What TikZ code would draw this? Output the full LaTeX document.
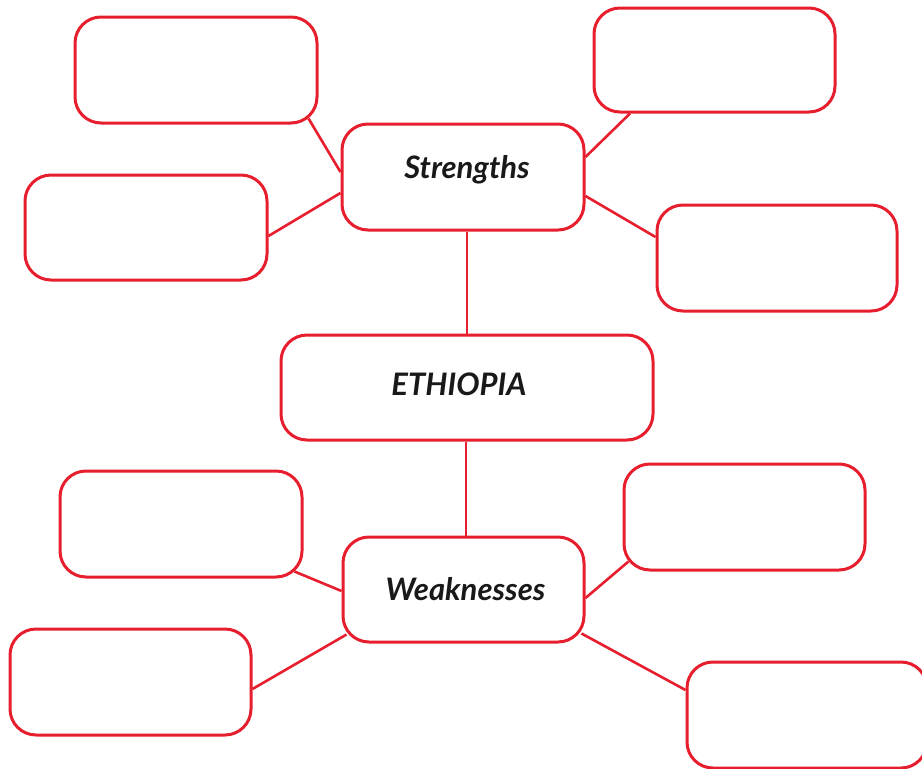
\documentclass[tikz,border=0pt]{standalone}
\usepackage{fontspec}
\setmainfont{Lato}
\definecolor{boxred}{RGB}{230,30,45}
\definecolor{txt}{RGB}{25,25,25}
\begin{document}
\begin{tikzpicture}[x=1pt,y=-1pt,
  box/.style={draw=boxred,line width=3pt,rounded corners=26pt,fill=white,
    minimum width=242pt,minimum height=106pt,inner sep=0pt,
    font=\fontsize{31}{34}\selectfont\bfseries\itshape,text=txt},
  link/.style={draw=boxred,line width=2.6pt}]
\useasboundingbox (0,0) rectangle (922,769);
\clip (0,0) rectangle (922,769);
% boxes
\node[box] (TL1) at (196,70) {};
\node[box,minimum width=241pt,minimum height=104pt] (TR1) at (714.5,60) {};
\node[box] (S) at (463,177) {\hspace*{8pt}\raisebox{20pt}{Strengths}};
\node[box,minimum height=105pt] (L2) at (146,227.5) {};
\node[box,minimum width=240pt] (R2) at (777,258) {};
\node[box,minimum width=372pt,minimum height=105pt] (E) at (467,387.5) {\raisebox{7pt}{ETHIOPIA}\hspace*{16pt}};
\node[box] (WL1) at (181,524) {};
\node[box,minimum width=241pt] (WR1) at (744.5,517) {};
\node[box,minimum width=241pt,minimum height=105pt] (W) at (463.5,589.5) {\hspace*{4pt}Weaknesses};
\node[box,minimum width=241pt] (WL2) at (130.5,682) {};
\node[box,minimum width=240pt] (WR2) at (807,715) {};
% connectors
\draw[link] ([shift={(-10,-6)}]TL1.south east) -- ([shift={(0,-5)}]S.west);
\draw[link] ([shift={(0,8.5)}]L2.east) -- ([shift={(0,16)}]S.west);
\draw[link] ([shift={(-84.5,0)}]TR1.south) -- ([shift={(0,-20)}]S.east);
\draw[link] ([shift={(0,-21)}]R2.west) -- ([shift={(0,19)}]S.east);
\draw[link] (E.north) -- (E.north |- S.south);
\draw[link] ([xshift=-1pt]E.south) -- ([xshift=-1pt]E.south |- W.north);
\draw[link] ([shift={(-9,-7)}]WL1.south east) -- ([shift={(0,1.5)}]W.west);
\draw[link] ([shift={(0,7)}]WL2.east) -- ([shift={(5,-9)}]W.south west);
\draw[link] ([shift={(6,-10)}]WR1.south west) -- ([shift={(0,8.5)}]W.east);
\draw[link] ([shift={(0,-25)}]WR2.west) -- ([shift={(-4,-10)}]W.south east);
\end{tikzpicture}
\end{document}
